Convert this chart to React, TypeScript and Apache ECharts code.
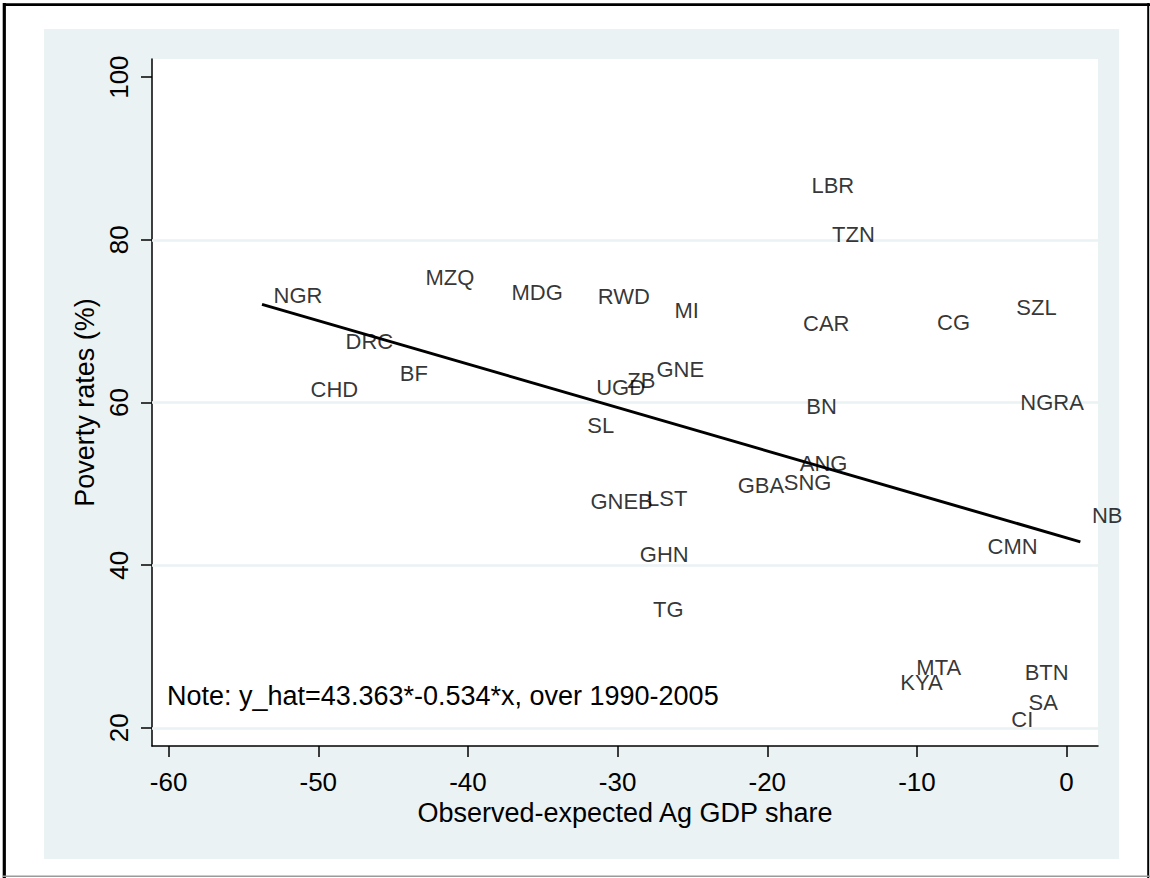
import React, { useEffect, useRef } from "react";
import * as echarts from "echarts";

const countries = ["NGR", "MZQ", "MDG", "RWD", "MI", "DRC", "BF", "CHD", "UGD", "ZB", "GNE", "SL", "GNEB", "LST", "GHN", "TG", "GBA", "SNG", "ANG", "BN", "NGRA", "NB", "CMN", "LBR", "TZN", "CAR", "CG", "SZL", "MTA", "KYA", "BTN", "SA", "CI"];
const agShareGap = [-53.76, -43.61, -37.86, -32.1, -26.97, -48.95, -45.32, -51.29, -32.2, -30.13, -28.18, -32.8, -32.59, -28.8, -29.29, -28.4, -22.75, -19.67, -18.6, -18.16, -3.86, 0.92, -6.05, -17.82, -16.44, -18.38, -9.43, -4.13, -10.81, -11.88, -3.57, -3.31, -4.46];
const povertyRate = [73.1, 75.41, 73.53, 73.08, 71.35, 67.51, 63.51, 61.58, 61.79, 62.69, 64.08, 57.12, 47.79, 48.2, 41.27, 34.51, 49.84, 50.21, 52.51, 59.53, 59.98, 46.05, 42.25, 86.69, 80.61, 69.67, 69.84, 71.64, 27.44, 25.52, 26.75, 23.16, 21.01];

const fitX = [-53.76, 0.92];
const fitY = [72.07, 42.87];

const xTicks = [-60, -50, -40, -30, -20, -10, 0];
const yTicks = [20, 40, 60, 80, 100];
const yGrid = [20, 40, 60, 80];

const noteText = "Note: y_hat=43.363*-0.534*x, over 1990-2005";
const xTitle = "Observed-expected Ag GDP share";
const yTitle = "Poverty rates (%)";

const FONT = "'Liberation Sans', Arial, Helvetica, sans-serif";
const BG = "#EAF2F3";

export default function App() {
  const ref = useRef<HTMLDivElement>(null);
  useEffect(() => {
    if (!ref.current) return;
    const chart = echarts.init(ref.current, undefined, { renderer: "svg" });
    const scatterData = countries.map((c, i) => ({ name: c, value: [agShareGap[i], povertyRate[i]] }));
    const fitData = fitX.map((x, i) => [x, fitY[i]]);
    chart.setOption({
      animation: false,
      backgroundColor: "#ffffff",
      textStyle: { fontFamily: FONT },
      graphic: [
        { type: "rect", z: -10, shape: { x: 44, y: 29, width: 1075, height: 830 }, style: { fill: BG } },
        { type: "line", shape: { x1: 3, y1: 4.7, x2: 1150, y2: 4.7 }, style: { stroke: "#000", lineWidth: 2.7 } },
        { type: "line", shape: { x1: 4.3, y1: 3, x2: 4.3, y2: 878 }, style: { stroke: "#000", lineWidth: 3.2 } },
        { type: "line", shape: { x1: 1148.2, y1: 3, x2: 1148.2, y2: 878 }, style: { stroke: "#000", lineWidth: 2 } },
        { type: "line", shape: { x1: 3, y1: 876.3, x2: 1150, y2: 876.3 }, style: { stroke: "#9a9a9a", lineWidth: 1.5 } },
        {
          type: "text",
          x: 167,
          y: 696,
          z: 10,
          style: { text: noteText, fill: "#000", font: `27px ${FONT}`, textVerticalAlign: "middle", textAlign: "left" },
        },
      ],
      grid: { left: 152, top: 59, width: 946, height: 687, show: true, backgroundColor: "#ffffff", borderWidth: 0 },
      xAxis: {
        type: "value",
        min: -61.11,
        max: 2.1,
        name: xTitle,
        nameLocation: "middle",
        nameGap: 51,
        nameTextStyle: { fontSize: 27, color: "#000", fontFamily: FONT },
        axisLine: { show: true, onZero: false, lineStyle: { color: "#000", width: 1.5 } },
        axisTick: { show: true, length: 11, customValues: xTicks, lineStyle: { color: "#000", width: 1.5 } },
        axisLabel: { customValues: xTicks, fontSize: 26, color: "#000", margin: 23, fontFamily: FONT },
        splitLine: { show: false },
      },
      yAxis: {
        type: "value",
        min: 17.77,
        max: 102.23,
        name: yTitle,
        nameLocation: "middle",
        nameGap: 50,
        nameRotate: 90,
        nameTextStyle: { fontSize: 27, color: "#000", fontFamily: FONT },
        axisLine: { show: true, onZero: false, lineStyle: { color: "#000", width: 1.5 } },
        axisTick: { show: true, length: 11, customValues: yTicks, lineStyle: { color: "#000", width: 1.5 } },
        axisLabel: { customValues: yTicks, rotate: 90, fontSize: 26, color: "#000", margin: 20, fontFamily: FONT },
        splitLine: { show: false },
      },
      series: [
        {
          type: "scatter",
          data: scatterData,
          symbol: "circle",
          symbolSize: 0.1,
          itemStyle: { color: "rgba(0,0,0,0)" },
          label: {
            show: true,
            position: "right",
            distance: 11.5,
            formatter: "{b}",
            fontSize: 22,
            color: "#000",
            fontFamily: FONT,
          },
          emphasis: { disabled: true },
          markLine: {
            silent: true,
            symbol: "none",
            label: { show: false },
            lineStyle: { color: BG, width: 2.5, type: "solid" },
            data: yGrid.map((v) => ({ yAxis: v })),
            z: 1,
          },
          z: 5,
        },
        {
          type: "line",
          data: fitData,
          symbol: "none",
          lineStyle: { color: "#000", width: 3 },
          z: 4,
        },
      ],
    });
    return () => chart.dispose();
  }, []);
  return <div ref={ref} style={{ position: "absolute", left: 0, top: 0, width: 1150, height: 878 }} />;
}
